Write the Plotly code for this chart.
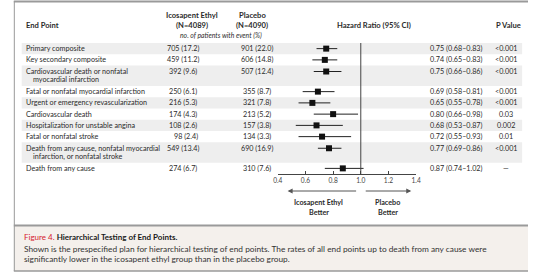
import plotly.graph_objects as go

W, H = 533, 277

# ---- data ----
endpoints = [
    "Primary composite",
    "Key secondary composite",
    "Cardiovascular death or nonfatal\nmyocardial infarction",
    "Fatal or nonfatal myocardial infarction",
    "Urgent or emergency revascularization",
    "Cardiovascular death",
    "Hospitalization for unstable angina",
    "Fatal or nonfatal stroke",
    "Death from any cause, nonfatal myocardial\ninfarction, or nonfatal stroke",
    "Death from any cause",
]
ice_n = [705, 459, 392, 250, 216, 174, 108, 98, 549, 274]
ice_pct = [17.2, 11.2, 9.6, 6.1, 5.3, 4.3, 2.6, 2.4, 13.4, 6.7]
pla_n = [901, 606, 507, 355, 321, 213, 157, 134, 690, 310]
pla_pct = [22.0, 14.8, 12.4, 8.7, 7.8, 5.2, 3.8, 3.3, 16.9, 7.6]
hr = [0.75, 0.74, 0.75, 0.69, 0.65, 0.80, 0.68, 0.72, 0.77, 0.87]
hr_lo = [0.68, 0.65, 0.66, 0.58, 0.55, 0.66, 0.53, 0.55, 0.69, 0.74]
hr_hi = [0.83, 0.83, 0.86, 0.81, 0.78, 0.98, 0.87, 0.93, 0.86, 1.02]
p_values = ["<0.001", "<0.001", "<0.001", "<0.001", "<0.001", "0.03", "0.002", "0.01", "<0.001", "—"]
tick_vals = [0.4, 0.6, 0.8, 1.0, 1.2, 1.4]
tick_text = ["0.4", "0.6", "0.8", "1.0", "1.2", "1.4"]

FONT = "Lato"
TXT = "#2b2b2b"
ROW_SIZE = 7.2
HEAD_SIZE = 7.6

def px(x):
    return x / W

# ---- row layout (pixel y, top->bottom) ----
row_top = []
row_h = []
y = 43.0
for lab in endpoints:
    h = 20.5 if "\n" in lab else 11.25
    row_top.append(y)
    row_h.append(h)
    y += h
row_center = [t + (6.0 if "\n" in lab else h / 2) for t, h, lab in zip(row_top, row_h, endpoints)]
axis_y = 174

fig = go.Figure()

# error bars + markers
fig.add_trace(go.Scatter(
    x=hr, y=row_center, mode="markers",
    marker=dict(symbol="square", size=6, color="#111111"),
    error_x=dict(type="data", symmetric=False,
                 array=[h - m for h, m in zip(hr_hi, hr)],
                 arrayminus=[m - l for m, l in zip(hr, hr_lo)],
                 width=0, thickness=1, color="#222222"),
    cliponaxis=False, showlegend=False, hoverinfo="skip",
))

shapes = []
ann = []

def text(x, y, s, size=ROW_SIZE, anchor="left", color=TXT, bold=False, italic=False):
    if bold:
        s = "<b>" + s + "</b>"
    if italic:
        s = "<i>" + s + "</i>"
    ann.append(dict(x=px(x), y=y, xref="paper", yref="y", text=s, showarrow=False,
                    xanchor=anchor, yanchor="middle",
                    font=dict(family=FONT, size=size, color=color)))

SEP_Y = 225.5
BOT_Y = 271
# panel background/borders
shapes.append(dict(type="rect", xref="paper", yref="y", x0=px(9), x1=1, y0=SEP_Y, y1=BOT_Y,
                   fillcolor="#f4f0ec", line=dict(width=0), layer="below"))
shapes.append(dict(type="line", xref="paper", yref="y", x0=px(9), x1=1, y0=1.5, y1=1.5,
                   line=dict(color="#9a9a9a", width=2)))
shapes.append(dict(type="line", xref="paper", yref="y", x0=px(9), x1=1, y0=SEP_Y, y1=SEP_Y,
                   line=dict(color="#9a9a9a", width=2)))
shapes.append(dict(type="line", xref="paper", yref="y", x0=px(9), x1=1, y0=BOT_Y, y1=BOT_Y,
                   line=dict(color="#9a9a9a", width=1.5)))
shapes.append(dict(type="line", xref="paper", yref="y", x0=px(9.5), x1=px(9.5), y0=1, y1=BOT_Y,
                   line=dict(color="#9a9a9a", width=1)))

# row shading
for i, (t, h) in enumerate(zip(row_top, row_h)):
    if i % 2 == 0:
        shapes.append(dict(type="rect", xref="paper", yref="y", x0=px(17), x1=px(527),
                           y0=t, y1=t + h, fillcolor="#eeeeee", line=dict(width=0), layer="below"))

# reference line at HR = 1
shapes.append(dict(type="line", xref="x", yref="y", x0=1.0, x1=1.0, y0=43, y1=axis_y,
                   line=dict(color="#444444", width=1)))

# headers
text(19, 25, "End Point", bold=True, size=HEAD_SIZE)
text(191, 15, "Icosapent Ethyl", anchor="center", bold=True, size=HEAD_SIZE)
text(191, 25, "(N=4089)", anchor="center", bold=True, size=HEAD_SIZE)
text(252, 15, "Placebo", anchor="center", bold=True, size=HEAD_SIZE)
text(252, 25, "(N=4090)", anchor="center", bold=True, size=HEAD_SIZE)
text(220, 35, "no. of patients with event (%)", anchor="center", italic=True, size=6.8)
text(376, 25, "Hazard Ratio (95% CI)", anchor="center", bold=True, size=HEAD_SIZE)
text(513, 25, "P Value", anchor="center", bold=True, size=HEAD_SIZE)

# rows
for i, lab in enumerate(endpoints):
    lines = lab.split("\n")
    c = row_center[i]
    text(19, c, lines[0])
    if len(lines) > 1:
        text(27, c + 8, lines[1])
    ice = f"{ice_n[i]} ({ice_pct[i]:.1f})"
    pla = f"{pla_n[i]} ({pla_pct[i]:.1f})"
    text(181 if ice_n[i] >= 100 else 184, c, ice, anchor="center")
    text(257, c, pla, anchor="center")
    text(431, c, f"{hr[i]:.2f} ({hr_lo[i]:.2f}–{hr_hi[i]:.2f})")
    text(511, c, p_values[i], anchor="center")

# direction arrows
for x0, x1 in [(358, 288), (367, 414)]:
    ann.append(dict(x=px(x1), y=191, ax=x0 - x1, ay=0, xref="paper", yref="y",
                    axref="pixel", ayref="pixel", text="", showarrow=True,
                    arrowhead=2, arrowsize=1, arrowwidth=1, arrowcolor="#555555"))
text(320, 202, "Icosapent Ethyl", anchor="center", bold=True, size=7.2)
text(320, 212, "Better", anchor="center", bold=True, size=7.2)
text(390, 202, "Placebo", anchor="center", bold=True, size=7.2)
text(390, 212, "Better", anchor="center", bold=True, size=7.2)

# caption
ann.append(dict(x=px(17), y=237, xref="paper", yref="y", showarrow=False, xanchor="left", yanchor="middle",
                text="<span style='color:#d4202c'>Figure 4.</span> <b>Hierarchical Testing of End Points.</b>",
                font=dict(family=FONT, size=8.0, color="#1a1a1a")))
text(17, 248.5, "Shown is the prespecified plan for hierarchical testing of end points. The rates of all end points up to death from any cause were",
     size=8.3, color="#333333")
text(17, 258.5, "significantly lower in the icosapent ethyl group than in the placebo group.",
     size=8.3, color="#333333")

fig.update_layout(
    width=W, height=H,
    margin=dict(l=0, r=0, t=0, b=0),
    paper_bgcolor="white", plot_bgcolor="rgba(0,0,0,0)",
    shapes=shapes, annotations=ann,
    xaxis=dict(domain=[278 / W, 419 / W], range=[0.4, 1.4], anchor="free",
               position=1 - axis_y / H, showline=True, linecolor="#444444", linewidth=1,
               ticks="inside", ticklen=3, tickcolor="#444444", tickwidth=1,
               tickvals=tick_vals, ticktext=tick_text, showgrid=False, zeroline=False,
               tickfont=dict(family=FONT, size=6.6, color="#444444"), fixedrange=True),
    yaxis=dict(domain=[0, 1], range=[H, 0], visible=False, fixedrange=True),
    showlegend=False,
)

fig.write_html("out.html", config={"displayModeBar": False},
               post_script="document.body.style.margin='0';document.body.style.overflow='hidden';")
